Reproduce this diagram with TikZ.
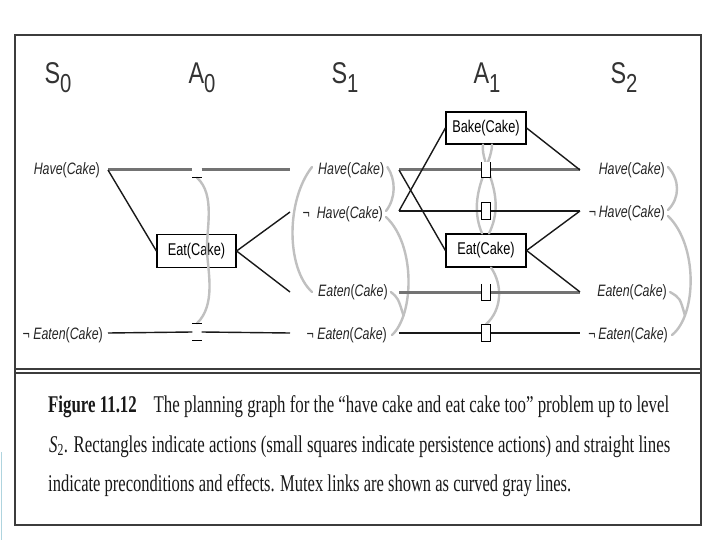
\documentclass[tikz,border=0pt]{standalone}
\usepackage{fontspec}
\usepackage{graphicx}
\setmainfont{Liberation Serif}
\newfontfamily\labfont[FakeStretch=0.75]{Liberation Sans}
\newfontfamily\hdrfont[FakeStretch=0.78]{Liberation Sans}
\usetikzlibrary{calc}
\definecolor{mutexgray}{RGB}{192,192,192}
\definecolor{thickgray}{RGB}{115,115,115}
\definecolor{framegray}{RGB}{60,60,60}
\definecolor{edgeblue}{RGB}{175,212,222}
\newcommand\hc{\textit{Have}(\textit{Cake})}
\newcommand\ec{\textit{Eaten}(\textit{Cake})}
\newcommand\hdr[2]{#1\raisebox{-9pt}{\fontsize{26}{26}\selectfont #2}}
\tikzset{
  lab/.style={font=\labfont\fontsize{16.5}{17}\selectfont, inner sep=0pt, text=black!85},
  hdr/.style={font=\hdrfont\fontsize{30}{30}\selectfont, inner sep=0pt, text=black!80},
  actbox/.style={draw, line width=1.2pt, minimum width=80pt, minimum height=32pt, inner sep=0pt, font=\labfont\fontsize{17}{17}\selectfont},
  blk/.style={line width=1.4pt, black!90},
  gry/.style={line width=3pt, thickgray},
  mutex/.style={line width=2.4pt, mutexgray, line cap=round},
  pers/.style={minimum width=9pt, inner sep=0pt},
  psq/.style={line width=1.1pt, black},
  capt/.style={font=\fontsize{24}{24}\selectfont, inner sep=0pt, text=black!90}
}
\begin{document}
\begin{tikzpicture}[x=1pt,y=-1pt]
\useasboundingbox (0,0) rectangle (720,540);
\fill[white] (0,0) rectangle (720,540);
% frame
\draw[framegray, line width=1.3pt] (15,35) rectangle (701,525);
\draw[framegray, line width=2pt] (15,35) -- (701,35);
\draw[framegray, line width=1.1pt] (15,369) -- (701,369);
\draw[framegray, line width=1.1pt] (15,373) -- (701,373);
\draw[edgeblue, line width=1.8pt] (1.5,452) -- (1.5,540);

% headers
\node[hdr] (hs0) at (58,78) {\hdr{S}{0}};
\node[hdr] (ha0) at (202,78) {\hdr{A}{0}};
\node[hdr] (hs1) at (345,78) {\hdr{S}{1}};
\node[hdr] (ha1) at (487,78) {\hdr{A}{1}};
\node[hdr] (hs2) at (624,78) {\hdr{S}{2}};

% state labels
\node[lab, anchor=east] (s0h) at (100,170) {\hc};
\node[lab, anchor=east] (s0ne) at (103,335) {¬\ \ec};
\node[lab, anchor=west] (s1h) at (318,170) {\hc};
\node[lab, anchor=east] (s1nh) at (383,214) {¬\ \ \hc};
\node[lab, anchor=west] (s1e) at (318,292) {\ec};
\node[lab, anchor=east] (s1ne) at (387,335) {¬\ \ec};
\node[lab, anchor=east] (s2h) at (665,170) {\hc};
\node[lab, anchor=east] (s2nh) at (665,213) {¬\,\hc};
\node[lab, anchor=east] (s2e) at (667,292) {\ec};
\node[lab, anchor=east] (s2ne) at (668,335) {¬\,\ec};

% end points of the level lines
\coordinate (h0) at (108,170);
\coordinate (ne0) at (108,333);
\coordinate (h1L) at (290,170);
\coordinate (nh1L) at (290,212);
\coordinate (e1L) at (290,292);
\coordinate (ne1L) at (290,333);
\coordinate (h1R) at (399,170);
\coordinate (nh1R) at (399,211);
\coordinate (e1R) at (399,292);
\coordinate (ne1R) at (399,333);
\coordinate (h2L) at (580,170);
\coordinate (nh2L) at (580,211);
\coordinate (e2L) at (580,292);
\coordinate (ne2L) at (580,333);

% action boxes
\node[actbox, minimum width=79pt, minimum height=33pt] (eat0) at (196.5,251) {Eat(Cake)};
\node[actbox] (bake1) at (486,128) {Bake(Cake)};
\node[actbox, minimum height=33pt] (eat1) at (486,250.5) {Eat(Cake)};

% persistence actions
\node[pers, minimum height=15pt] (p0h) at (197,170) {};
\node[pers, minimum height=17pt] (p0ne) at (197,332) {};
\node[pers, minimum height=15pt] (p1h) at (486,170) {};
\node[pers, minimum height=17pt] (p1nh) at (486,211) {};
\node[pers, minimum height=16pt] (p1e) at (486,292) {};
\node[pers, minimum height=17pt] (p1ne) at (486,333) {};

% mutex links
\draw[mutex] (p0h.south) .. controls (216,195) and (206,230) .. (207,251)
  .. controls (208,272) and (216,305) .. (p0ne.north);
\draw[mutex] ([xshift=-6pt,yshift=3pt]s1h.west) .. controls (286,200) and (286,268) .. ([xshift=-6pt]s1e.west);
\draw[mutex] ([xshift=3pt,yshift=3pt]s1h.east) .. controls (396,180) and (396,198) .. ([xshift=3pt,yshift=3pt]s1nh.east);
\draw[mutex] ([xshift=3pt,yshift=-3pt]s1nh.east) .. controls (416,245) and (414,315) .. coordinate[pos=0.78] (m1j) ([xshift=5pt]s1ne.east);
\draw[mutex] ([xshift=3pt]s1e.east) .. controls (398,298) .. (m1j);
\draw[mutex] ([xshift=3pt,yshift=3pt]s2h.east) .. controls (680,180) and (680,198) .. ([xshift=3pt,yshift=3pt]s2nh.east);
\draw[mutex] ([xshift=3pt,yshift=-3pt]s2nh.east) .. controls (698,245) and (697,315) .. coordinate[pos=0.78] (m2j) ([xshift=4pt]s2ne.east);
\draw[mutex] ([xshift=3pt]s2e.east) .. controls (680,298) .. (m2j);
\draw[mutex] ([xshift=6pt]bake1.south) .. controls (492,165) and (466,195) .. ([xshift=-4pt]eat1.north);
\draw[mutex] ([xshift=-3pt]bake1.south) .. controls (480,165) and (508,195) .. ([xshift=3pt]eat1.north);
\draw[mutex] ([xshift=5pt]eat1.south) .. controls (503,285) and (502,310) .. (p1ne.north);

% level 0 -> 1 lines
\draw[gry] (h0) -- (p0h.west);
\draw[gry] (p0h.east) -- (h1L);
\draw[psq] (p0h.south west) -- (p0h.south east);
\draw[blk] (ne0) -- (p0ne.west);
\draw[blk] (p0ne.east) -- (ne1L);
\draw[psq] (p0ne.north west) -- (p0ne.north east);
\draw[psq] (p0ne.south west) -- (p0ne.south east);
\draw[blk] (h0) -- (eat0.west);
\draw[blk] (eat0.east) -- (nh1L);
\draw[blk] (eat0.east) -- (e1L);

% level 1 -> 2 lines
\draw[gry] (h1R) -- (p1h.west);
\draw[gry] (p1h.east) -- (h2L);
\draw[blk] (nh1R) -- (p1nh.west);
\draw[blk] (p1nh.east) -- (nh2L);
\draw[gry] (e1R) -- (p1e.west);
\draw[gry] (p1e.east) -- (e2L);
\draw[blk] (ne1R) -- (p1ne.west);
\draw[blk] (p1ne.east) -- (ne2L);
\draw[blk] (h1R) -- (eat1.west);
\draw[blk] (nh1R) -- (bake1.west);
\draw[blk] (bake1.east) -- (h2L);
\draw[blk] (eat1.east) -- (nh2L);
\draw[blk] (eat1.east) -- (e2L);

\draw[psq, fill=white] (p1h.north west) -- (p1h.south west) -- (p1h.south east) -- (p1h.north east);
\draw[psq, fill=white] (p1nh.south west) rectangle (p1nh.north east);
\draw[psq, fill=white] (p1e.north west) -- (p1e.south west) -- (p1e.south east) -- (p1e.north east);
\draw[psq, fill=white] (p1ne.south west) rectangle (p1ne.north east);

% caption
\node[capt, anchor=base west] (cap1) at (48,412) {\resizebox{621pt}{\height}{\textbf{Figure 11.12}\hspace{1em}The planning graph for the “have cake and eat cake too” problem up to level}};
\node[capt, anchor=base west] (cap2) at (49,452) {\resizebox{621pt}{\height}{\textit{S}\textsubscript{2}. Rectangles indicate actions (small squares indicate persistence actions) and straight lines}};
\node[capt, anchor=base west] (cap3) at (48,491) {\resizebox{523pt}{\height}{indicate preconditions and effects. Mutex links are shown as curved gray lines.}};
\end{tikzpicture}
\end{document}
